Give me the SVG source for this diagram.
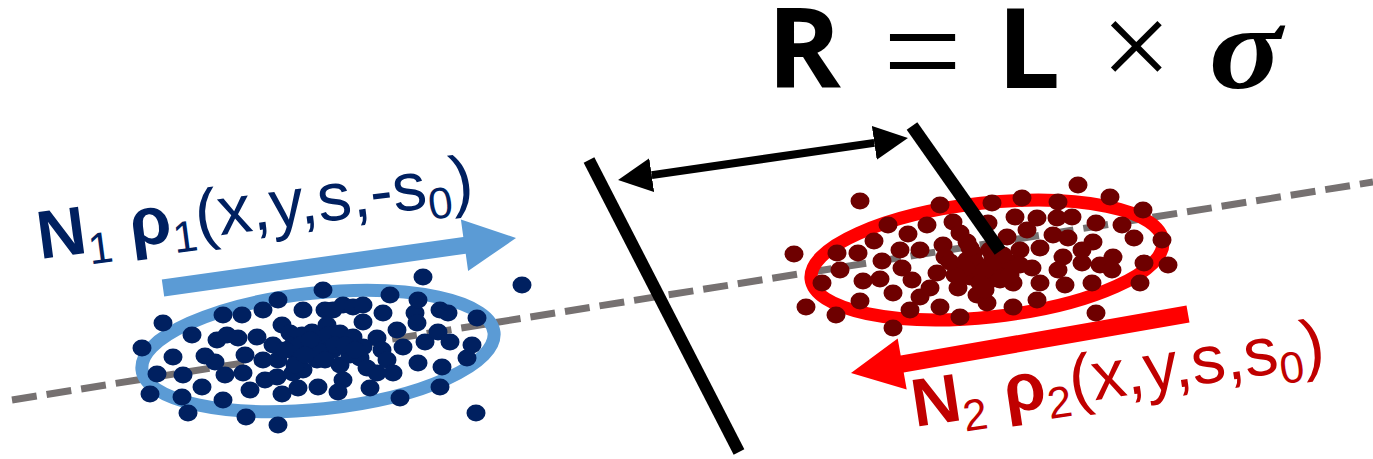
<svg xmlns="http://www.w3.org/2000/svg" width="1373" height="459" viewBox="0 0 1373 459">
  <style>
    .b { fill: #002060; rx: 9.5px; ry: 8.5px; }
    .r { fill: #6E0000; rx: 9.5px; ry: 8.5px; }
    .lbl { font-family: "Liberation Sans", Arial, sans-serif; font-size: 68px; }
    .sub { font-size: 44px; font-weight: normal; }
    .bold { font-weight: bold; }
    .mb { font-family: "Open Sans", "Liberation Sans", sans-serif; font-weight: bold; font-size: 112px; }
    .mo { font-family: "Liberation Serif", serif; }
  </style>
  <defs>
    <marker id="head" viewBox="0 -17 34 34" markerUnits="userSpaceOnUse" markerWidth="34" markerHeight="34" refX="0" refY="0" orient="auto-start-reverse">
      <path d="M0,-17 L34,0 L0,17 z" fill="#000"/>
    </marker>
  </defs>

  <!-- formula -->
  <g id="formula">
    <text class="mb" x="767" y="88">R</text>
    <text class="mo" x="883" y="98" font-size="140">=</text>
    <text class="mb" x="997" y="88">L</text>
    <text class="mo" x="1101" y="88" font-size="125">×</text>
    <text class="mo" transform="translate(1209 88) scale(1.15 1)" font-style="italic" font-weight="bold" font-size="118">σ</text>
  </g>

  <!-- connectors: beam axis, detector planes, distance arrow -->
  <g id="connectors">
    <line x1="12" y1="400" x2="1373" y2="182" stroke="#767171" stroke-width="7" stroke-dasharray="25 10"/>
    <line x1="589" y1="160" x2="739" y2="452" stroke="#000" stroke-width="12"/>
    <line x1="651.7" y1="175.1" x2="874.3" y2="142.9" stroke="#000" stroke-width="8" marker-start="url(#head)" marker-end="url(#head)"/>
  </g>

  <!-- beam 1 -->
  <g id="beam1">
    <ellipse cx="318" cy="351" rx="177" ry="58" transform="rotate(-6 318 351)" fill="none" stroke="#5B9BD5" stroke-width="13"/>
    <polygon points="164.2,296.4 465.7,253.7 468.1,271 516,238 460.9,219.6 463.3,236.9 161.8,279.6" fill="#5B9BD5"/>
    <g id="beam1-dots">
      <ellipse class="b" cx="163" cy="323"/><ellipse class="b" cx="142" cy="348"/><ellipse class="b" cx="192" cy="335"/>
      <ellipse class="b" cx="173" cy="357"/><ellipse class="b" cx="157" cy="374"/><ellipse class="b" cx="150" cy="394"/>
      <ellipse class="b" cx="183" cy="375"/><ellipse class="b" cx="182" cy="397"/><ellipse class="b" cx="188" cy="413"/>
      <ellipse class="b" cx="202" cy="387"/><ellipse class="b" cx="205" cy="356"/><ellipse class="b" cx="215" cy="362"/>
      <ellipse class="b" cx="217" cy="340"/><ellipse class="b" cx="223" cy="315"/><ellipse class="b" cx="227" cy="335"/>
      <ellipse class="b" cx="225" cy="375"/><ellipse class="b" cx="223" cy="400"/><ellipse class="b" cx="238" cy="338"/>
      <ellipse class="b" cx="242" cy="315"/><ellipse class="b" cx="245" cy="355"/><ellipse class="b" cx="243" cy="373"/>
      <ellipse class="b" cx="250" cy="390"/><ellipse class="b" cx="246" cy="417"/><ellipse class="b" cx="257" cy="337"/>
      <ellipse class="b" cx="263" cy="310"/><ellipse class="b" cx="263" cy="360"/><ellipse class="b" cx="265" cy="380"/>
      <ellipse class="b" cx="278" cy="300"/><ellipse class="b" cx="282" cy="325"/><ellipse class="b" cx="273" cy="345"/>
      <ellipse class="b" cx="278" cy="360"/><ellipse class="b" cx="277" cy="377"/><ellipse class="b" cx="282" cy="394"/>
      <ellipse class="b" cx="278" cy="425"/><ellipse class="b" cx="290" cy="333"/><ellipse class="b" cx="293" cy="345"/>
      <ellipse class="b" cx="297" cy="355"/><ellipse class="b" cx="293" cy="373"/><ellipse class="b" cx="298" cy="388"/>
      <ellipse class="b" cx="303" cy="310"/><ellipse class="b" cx="302" cy="335"/><ellipse class="b" cx="307" cy="348"/>
      <ellipse class="b" cx="303" cy="370"/><ellipse class="b" cx="312" cy="332"/><ellipse class="b" cx="317" cy="360"/>
      <ellipse class="b" cx="318" cy="387"/><ellipse class="b" cx="323" cy="290"/><ellipse class="b" cx="325" cy="310"/>
      <ellipse class="b" cx="327" cy="325"/><ellipse class="b" cx="323" cy="345"/><ellipse class="b" cx="333" cy="350"/>
      <ellipse class="b" cx="328" cy="335"/><ellipse class="b" cx="333" cy="310"/><ellipse class="b" cx="340" cy="333"/>
      <ellipse class="b" cx="340" cy="365"/><ellipse class="b" cx="343" cy="380"/><ellipse class="b" cx="338" cy="392"/>
      <ellipse class="b" cx="343" cy="305"/><ellipse class="b" cx="353" cy="337"/><ellipse class="b" cx="350" cy="355"/>
      <ellipse class="b" cx="353" cy="307"/><ellipse class="b" cx="363" cy="305"/><ellipse class="b" cx="363" cy="322"/>
      <ellipse class="b" cx="363" cy="347"/><ellipse class="b" cx="360" cy="358"/><ellipse class="b" cx="377" cy="338"/>
      <ellipse class="b" cx="382" cy="350"/><ellipse class="b" cx="367" cy="368"/><ellipse class="b" cx="377" cy="373"/>
      <ellipse class="b" cx="370" cy="388"/><ellipse class="b" cx="383" cy="313"/><ellipse class="b" cx="387" cy="360"/>
      <ellipse class="b" cx="390" cy="295"/><ellipse class="b" cx="393" cy="373"/><ellipse class="b" cx="397" cy="330"/>
      <ellipse class="b" cx="403" cy="347"/><ellipse class="b" cx="400" cy="398"/><ellipse class="b" cx="415" cy="313"/>
      <ellipse class="b" cx="417" cy="323"/><ellipse class="b" cx="418" cy="300"/><ellipse class="b" cx="418" cy="363"/>
      <ellipse class="b" cx="423" cy="277"/><ellipse class="b" cx="425" cy="342"/><ellipse class="b" cx="438" cy="332"/>
      <ellipse class="b" cx="440" cy="310"/><ellipse class="b" cx="442" cy="367"/><ellipse class="b" cx="440" cy="387"/>
      <ellipse class="b" cx="448" cy="313"/><ellipse class="b" cx="450" cy="342"/><ellipse class="b" cx="467" cy="358"/>
      <ellipse class="b" cx="472" cy="345"/><ellipse class="b" cx="477" cy="318"/><ellipse class="b" cx="522" cy="285"/>
      <ellipse class="b" cx="476" cy="413"/>
      <ellipse class="b" cx="300" cy="345"/><ellipse class="b" cx="320" cy="352"/><ellipse class="b" cx="310" cy="340"/>
      <ellipse class="b" cx="335" cy="345"/><ellipse class="b" cx="285" cy="350"/><ellipse class="b" cx="345" cy="345"/>
      <ellipse class="b" cx="325" cy="360"/><ellipse class="b" cx="295" cy="365"/><ellipse class="b" cx="355" cy="350"/>
      <ellipse class="b" cx="305" cy="355"/>
    </g>
  </g>

  <!-- beam 2 -->
  <g id="beam2">
    <ellipse cx="987" cy="260" rx="177" ry="57" transform="rotate(-6.2 987 260)" fill="none" stroke="#FF0000" stroke-width="13"/>
    <polygon points="1189.5,322.4 903.7,372.4 906.7,389.6 851,373 897.7,338.4 900.7,355.6 1186.5,305.6" fill="#FF0000"/>
    <g id="beam2-dots">
      <ellipse class="r" cx="860" cy="201"/><ellipse class="r" cx="794" cy="254"/><ellipse class="r" cx="806" cy="307"/>
      <ellipse class="r" cx="822" cy="283"/><ellipse class="r" cx="836" cy="315"/><ellipse class="r" cx="837" cy="253"/>
      <ellipse class="r" cx="840" cy="270"/><ellipse class="r" cx="858" cy="253"/><ellipse class="r" cx="860" cy="301"/>
      <ellipse class="r" cx="863" cy="281"/><ellipse class="r" cx="874" cy="241"/><ellipse class="r" cx="880" cy="279"/>
      <ellipse class="r" cx="882" cy="261"/><ellipse class="r" cx="888" cy="225"/><ellipse class="r" cx="893" cy="328"/>
      <ellipse class="r" cx="893" cy="293"/><ellipse class="r" cx="900" cy="250"/><ellipse class="r" cx="902" cy="268"/>
      <ellipse class="r" cx="908" cy="234"/><ellipse class="r" cx="912" cy="280"/><ellipse class="r" cx="910" cy="310"/>
      <ellipse class="r" cx="920" cy="250"/><ellipse class="r" cx="920" cy="297"/><ellipse class="r" cx="927" cy="225"/>
      <ellipse class="r" cx="930" cy="288"/><ellipse class="r" cx="937" cy="273"/><ellipse class="r" cx="940" cy="205"/>
      <ellipse class="r" cx="940" cy="307"/><ellipse class="r" cx="943" cy="245"/><ellipse class="r" cx="945" cy="257"/>
      <ellipse class="r" cx="953" cy="222"/><ellipse class="r" cx="960" cy="233"/><ellipse class="r" cx="960" cy="317"/>
      <ellipse class="r" cx="958" cy="288"/><ellipse class="r" cx="967" cy="242"/><ellipse class="r" cx="967" cy="260"/>
      <ellipse class="r" cx="970" cy="277"/><ellipse class="r" cx="973" cy="253"/><ellipse class="r" cx="977" cy="295"/>
      <ellipse class="r" cx="980" cy="267"/><ellipse class="r" cx="987" cy="303"/><ellipse class="r" cx="988" cy="223"/>
      <ellipse class="r" cx="992" cy="203"/><ellipse class="r" cx="990" cy="280"/><ellipse class="r" cx="993" cy="257"/>
      <ellipse class="r" cx="1000" cy="270"/><ellipse class="r" cx="1007" cy="237"/><ellipse class="r" cx="1010" cy="263"/>
      <ellipse class="r" cx="1013" cy="307"/><ellipse class="r" cx="1015" cy="217"/><ellipse class="r" cx="1013" cy="283"/>
      <ellipse class="r" cx="1020" cy="250"/><ellipse class="r" cx="1022" cy="198"/><ellipse class="r" cx="1027" cy="230"/>
      <ellipse class="r" cx="1032" cy="268"/><ellipse class="r" cx="1037" cy="218"/><ellipse class="r" cx="1037" cy="300"/>
      <ellipse class="r" cx="1040" cy="248"/><ellipse class="r" cx="1040" cy="283"/><ellipse class="r" cx="1053" cy="235"/>
      <ellipse class="r" cx="1057" cy="218"/><ellipse class="r" cx="1058" cy="202"/><ellipse class="r" cx="1058" cy="270"/>
      <ellipse class="r" cx="1063" cy="257"/><ellipse class="r" cx="1065" cy="285"/><ellipse class="r" cx="1072" cy="217"/>
      <ellipse class="r" cx="1068" cy="238"/><ellipse class="r" cx="1078" cy="185"/><ellipse class="r" cx="1082" cy="250"/>
      <ellipse class="r" cx="1082" cy="263"/><ellipse class="r" cx="1093" cy="242"/><ellipse class="r" cx="1096" cy="223"/>
      <ellipse class="r" cx="1092" cy="283"/><ellipse class="r" cx="1096" cy="313"/><ellipse class="r" cx="1100" cy="265"/>
      <ellipse class="r" cx="1110" cy="197"/><ellipse class="r" cx="1113" cy="257"/><ellipse class="r" cx="1112" cy="270"/>
      <ellipse class="r" cx="1122" cy="225"/><ellipse class="r" cx="1134" cy="238"/><ellipse class="r" cx="1140" cy="283"/>
      <ellipse class="r" cx="1143" cy="210"/><ellipse class="r" cx="1144" cy="263"/><ellipse class="r" cx="1162" cy="240"/>
      <ellipse class="r" cx="1168" cy="265"/>
      <ellipse class="r" cx="975" cy="262"/><ellipse class="r" cx="985" cy="270"/><ellipse class="r" cx="995" cy="262"/>
      <ellipse class="r" cx="965" cy="268"/><ellipse class="r" cx="1003" cy="255"/><ellipse class="r" cx="990" cy="250"/>
      <ellipse class="r" cx="980" cy="283"/><ellipse class="r" cx="970" cy="248"/><ellipse class="r" cx="1000" cy="280"/>
      <ellipse class="r" cx="955" cy="275"/><ellipse class="r" cx="1010" cy="275"/><ellipse class="r" cx="985" cy="290"/>
      <ellipse class="r" cx="1020" cy="265"/><ellipse class="r" cx="950" cy="262"/>
    </g>
  </g>

  <!-- second detector plane, drawn over the beam 2 cloud -->
  <g id="plane2">
    <line x1="912" y1="126" x2="1000" y2="251" stroke="#000" stroke-width="13"/>
  </g>

  <!-- labels -->
  <g id="label1">
    <text class="lbl" fill="#002060" transform="translate(40 259) rotate(-7.5)"><tspan class="bold">N</tspan><tspan class="sub" dy="12">1</tspan><tspan dy="-12"> </tspan><tspan class="bold">ρ</tspan><tspan class="sub" dy="12">1</tspan><tspan dy="-12">(x,y,s,-s</tspan><tspan class="sub" dy="12">0</tspan><tspan dy="-12">)</tspan></text>
  </g>
  <g id="label2">
    <text class="lbl" fill="#C00000" transform="translate(915 427) rotate(-8.5)"><tspan class="bold">N</tspan><tspan class="sub" dy="12">2</tspan><tspan dy="-12"> </tspan><tspan class="bold">ρ</tspan><tspan class="sub" dy="12">2</tspan><tspan dy="-12">(x,y,s,s</tspan><tspan class="sub" dy="12">0</tspan><tspan dy="-12">)</tspan></text>
  </g>
</svg>
